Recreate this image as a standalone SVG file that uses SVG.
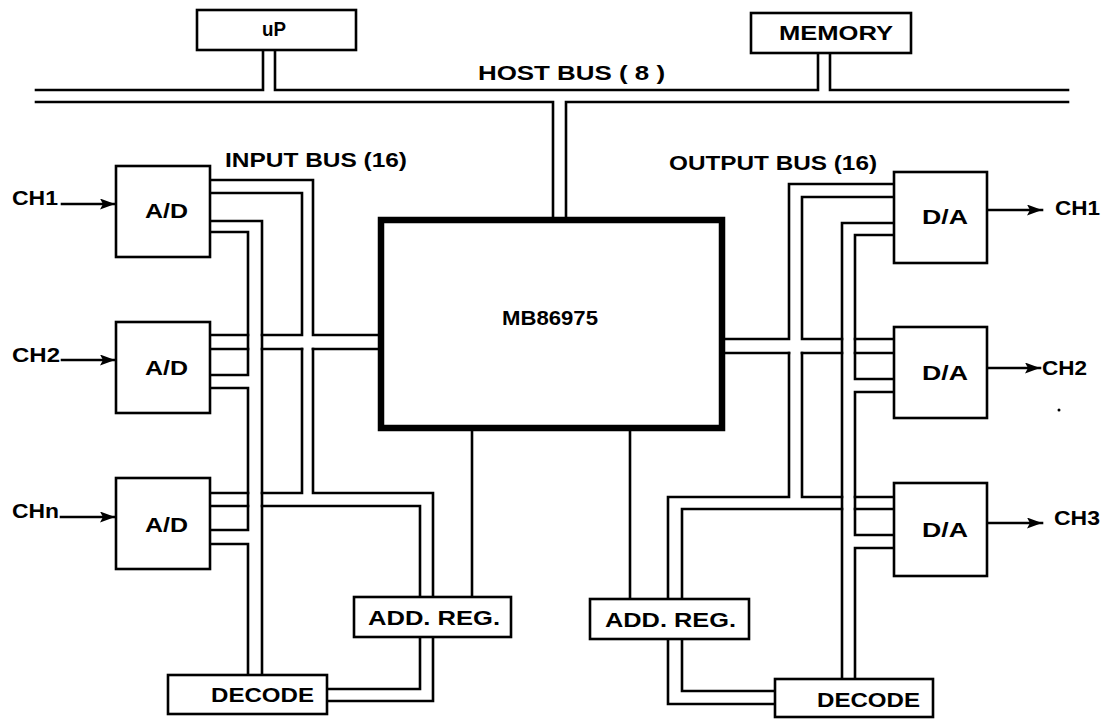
<svg xmlns="http://www.w3.org/2000/svg" width="1108" height="719" viewBox="0 0 1108 719">
<style>
.bx{fill:#fff;stroke:#000;stroke-width:2.6}
.chip{fill:#fff;stroke:#000;stroke-width:6.5}
.w{fill:none;stroke:#000;stroke-width:2.6;stroke-linejoin:miter;stroke-linecap:square}
.t{font-family:"Liberation Sans",Arial,Helvetica,sans-serif;font-weight:bold;font-size:20px;fill:#000}
</style>
<defs>
<marker id="ah" markerUnits="userSpaceOnUse" markerWidth="15" markerHeight="11" refX="15" refY="5.5" orient="auto">
<path d="M0,0 L15,5.5 L0,11 L3,5.5 z" fill="#000"/>
</marker>
</defs>
<rect width="1108" height="719" fill="#fff"/>

<g id="connectors">
<!-- host bus -->
<path class="w" d="M36,90 H263 V50 M275,50 V90 H818 V53 M830,53 V90 H1068"/>
<path class="w" d="M36,102 H553 V217 M566,217 V102 H1068"/>
<!-- input side -->
<path class="w" d="M210,180 H313 V335 H378"/>
<path class="w" d="M210,193 H302 V335 H262"/>
<path class="w" d="M210,221 H262 V675"/>
<path class="w" d="M210,232 H248 V375 H210"/>
<path class="w" d="M210,335 H248 M210,349 H248"/>
<path class="w" d="M262,349 H302 M313,349 H378"/>
<path class="w" d="M302,349 V493 H262"/>
<path class="w" d="M313,349 V493 H433 V597"/>
<path class="w" d="M210,388 H248 V530 H210"/>
<path class="w" d="M210,493 H248 M210,506 H248"/>
<path class="w" d="M262,506 H420 V597"/>
<path class="w" d="M210,544 H248 V675"/>
<path class="w" d="M472,431 V597"/>
<path class="w" d="M420,637 V689 H327 M433,637 V701 H327"/>
<!-- output side -->
<path class="w" d="M894,184 H789 V339 H725"/>
<path class="w" d="M894,197 H802 V339 H842"/>
<path class="w" d="M894,223 H842 V679"/>
<path class="w" d="M894,235 H855 V379 H894"/>
<path class="w" d="M855,339 H894 M855,353 H894"/>
<path class="w" d="M725,353 H789 M802,353 H842"/>
<path class="w" d="M789,353 V497 H668 V599"/>
<path class="w" d="M802,353 V497 H842"/>
<path class="w" d="M842,509 H682 V599"/>
<path class="w" d="M894,392 H855 V535 H894"/>
<path class="w" d="M855,497 H894 M855,509 H894"/>
<path class="w" d="M894,548 H855 V679"/>
<path class="w" d="M630,431 V599"/>
<path class="w" d="M668,639 V704 H775 M682,639 V691 H775"/>
<!-- channel arrows -->
<path class="w" d="M62,204 H115" marker-end="url(#ah)"/>
<path class="w" d="M62,360 H115" marker-end="url(#ah)"/>
<path class="w" d="M61,517 H115" marker-end="url(#ah)"/>
<path class="w" d="M988,210 H1042" marker-end="url(#ah)"/>
<path class="w" d="M988,368 H1040" marker-end="url(#ah)"/>
<path class="w" d="M988,523 H1042" marker-end="url(#ah)"/>
</g>

<g id="up"><rect class="bx" x="197" y="10" width="159" height="40"/><text class="t" x="262" y="36" textLength="24" lengthAdjust="spacingAndGlyphs">uP</text></g>
<g id="memory"><rect class="bx" x="751" y="13" width="160" height="40"/><text class="t" x="779" y="40" textLength="114" lengthAdjust="spacingAndGlyphs">MEMORY</text></g>
<g id="hostbus-label"><text class="t" x="478" y="80" textLength="187" lengthAdjust="spacingAndGlyphs">HOST BUS ( 8 )</text></g>
<g id="inputbus-label"><text class="t" x="225" y="167" textLength="182" lengthAdjust="spacingAndGlyphs">INPUT BUS (16)</text></g>
<g id="outputbus-label"><text class="t" x="669" y="170" textLength="208" lengthAdjust="spacingAndGlyphs">OUTPUT BUS (16)</text></g>

<g id="chip"><rect class="chip" x="381" y="220" width="341" height="208"/><text class="t" x="502" y="325" textLength="96" lengthAdjust="spacingAndGlyphs">MB86975</text></g>

<g id="ad1"><rect class="bx" x="116" y="166" width="94" height="91"/><text class="t" x="145" y="218" textLength="43" lengthAdjust="spacingAndGlyphs">A/D</text></g>
<g id="ad2"><rect class="bx" x="116" y="322" width="94" height="91"/><text class="t" x="145" y="375" textLength="43" lengthAdjust="spacingAndGlyphs">A/D</text></g>
<g id="ad3"><rect class="bx" x="116" y="478" width="94" height="91"/><text class="t" x="145" y="532" textLength="43" lengthAdjust="spacingAndGlyphs">A/D</text></g>

<g id="ch-in">
<text class="t" x="12" y="205" textLength="46" lengthAdjust="spacingAndGlyphs">CH1</text>
<text class="t" x="12" y="362" textLength="48" lengthAdjust="spacingAndGlyphs">CH2</text>
<text class="t" x="12" y="518" textLength="47" lengthAdjust="spacingAndGlyphs">CHn</text>
</g>

<g id="da1"><rect class="bx" x="894" y="172" width="93" height="91"/><text class="t" x="922" y="224" textLength="46" lengthAdjust="spacingAndGlyphs">D/A</text></g>
<g id="da2"><rect class="bx" x="894" y="327" width="93" height="91"/><text class="t" x="922" y="380" textLength="46" lengthAdjust="spacingAndGlyphs">D/A</text></g>
<g id="da3"><rect class="bx" x="894" y="483" width="93" height="93"/><text class="t" x="922" y="537" textLength="46" lengthAdjust="spacingAndGlyphs">D/A</text></g>

<g id="ch-out">
<text class="t" x="1055" y="215" textLength="45" lengthAdjust="spacingAndGlyphs">CH1</text>
<text class="t" x="1042" y="375" textLength="45" lengthAdjust="spacingAndGlyphs">CH2</text>
<text class="t" x="1054" y="525" textLength="46" lengthAdjust="spacingAndGlyphs">CH3</text>
</g>

<g id="addreg-in"><rect class="bx" x="354" y="597" width="157" height="40"/><text class="t" x="368" y="625" textLength="132" lengthAdjust="spacingAndGlyphs">ADD. REG.</text></g>
<g id="addreg-out"><rect class="bx" x="590" y="599" width="159" height="40"/><text class="t" x="605" y="627" textLength="131" lengthAdjust="spacingAndGlyphs">ADD. REG.</text></g>
<g id="decode-in"><rect class="bx" x="168" y="675" width="159" height="39"/><text class="t" x="211" y="702" textLength="103" lengthAdjust="spacingAndGlyphs">DECODE</text></g>
<g id="decode-out"><rect class="bx" x="775" y="679" width="158" height="38"/><text class="t" x="817" y="707" textLength="103" lengthAdjust="spacingAndGlyphs">DECODE</text></g>

<circle cx="1059" cy="410" r="1.5" fill="#000"/>
</svg>
